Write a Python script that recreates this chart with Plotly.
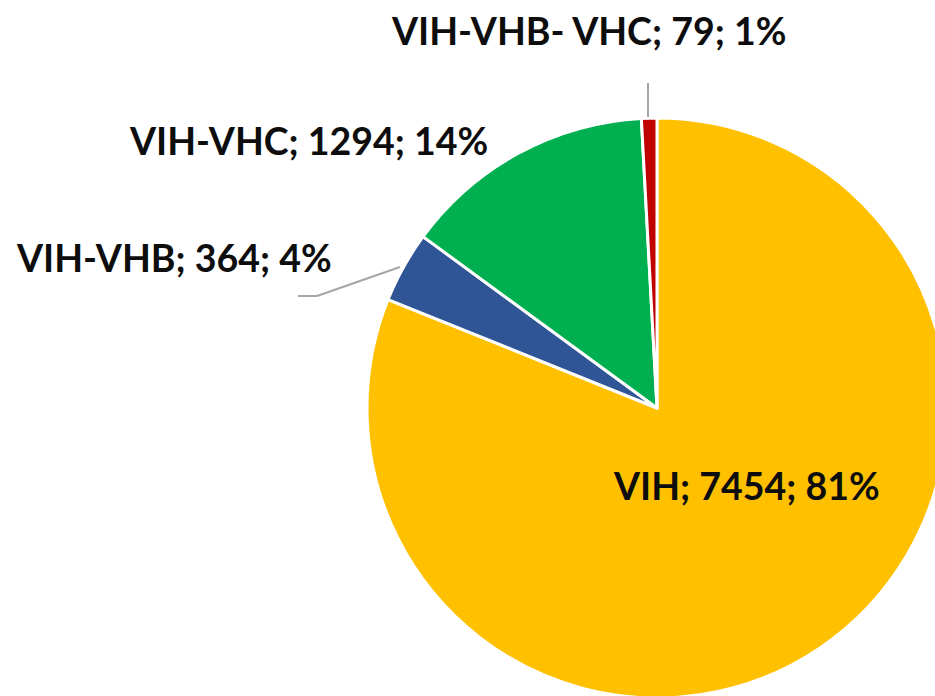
import plotly.graph_objects as go

labels = ["VIH", "VIH-VHB", "VIH-VHC", "VIH-VHB- VHC"]
values = [7454, 364, 1294, 79]
percents = ["81%", "4%", "14%", "1%"]
colors = ["#FFC000", "#2F5597", "#00B050", "#C00000"]

# figure slightly larger than the 935x696 window so the pie is clipped at
# the right and bottom edges, as in the reference
W, H = 960, 720
CX, CY, R = 657, 408, 290  # pie center / radius in page pixels

fig = go.Figure()
fig.add_trace(go.Pie(
    labels=labels,
    values=values,
    sort=False,
    direction="clockwise",
    rotation=0,
    marker=dict(colors=colors, line=dict(color="white", width=3)),
    textinfo="none",
    hoverinfo="label+value+percent",
    showlegend=False,
    domain=dict(x=[(CX - R) / W, (CX + R) / W],
                y=[(H - CY - R) / H, (H - CY + R) / H]),
))

# label positions in pixels (center x, center y)
label_pos = {
    "VIH": (746, 485),
    "VIH-VHB": (174, 257),
    "VIH-VHC": (308, 141),
    "VIH-VHB- VHC": (588, 31),
}
for lab, val, pct in zip(labels, values, percents):
    px, py = label_pos[lab]
    fig.add_annotation(
        x=px / W, y=1 - py / H, xref="paper", yref="paper",
        text=f"{lab}; {val}; {pct}", showarrow=False,
        xanchor="center", yanchor="middle",
        font=dict(family="Lato", size=37.5, color="#0D0D0D", weight="bold"),
    )

def pline(x0, y0, x1, y1):
    fig.add_shape(type="line", xref="paper", yref="paper",
                  x0=x0 / W, y0=1 - y0 / H, x1=x1 / W, y1=1 - y1 / H,
                  line=dict(color="#A6A6A6", width=2))

pline(648, 83, 648, 117)
pline(400, 267, 317, 296)
pline(317, 296, 298, 296)

fig.update_layout(
    width=W, height=H,
    margin=dict(l=0, r=0, t=0, b=0),
    paper_bgcolor="white", plot_bgcolor="white",
)
fig.write_html(
    "out.html",
    config={"displayModeBar": False},
    post_script="document.body.style.margin='0';document.body.style.overflow='hidden';"
                "document.documentElement.style.overflow='hidden';",
)
